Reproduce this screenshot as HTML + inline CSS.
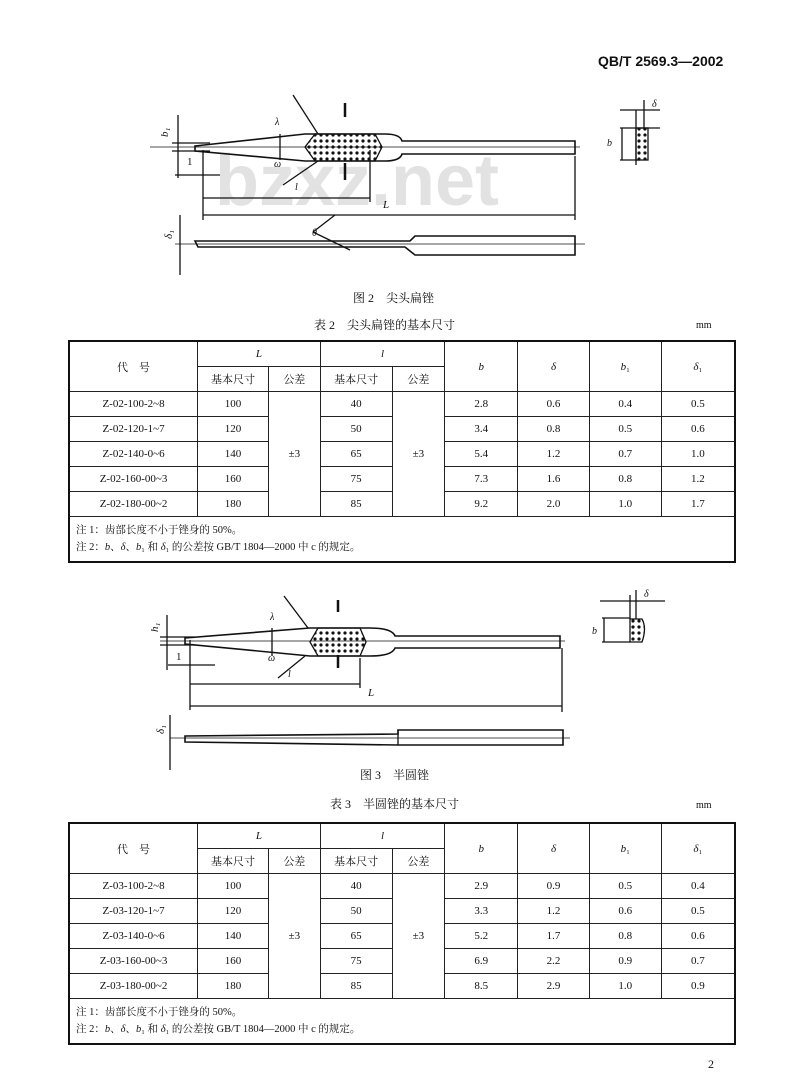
<!DOCTYPE html>
<html><head><meta charset="utf-8"><style>
body{margin:0;background:#fff;}
#p{position:relative;width:800px;height:1092px;overflow:hidden;font-family:"Liberation Serif","Noto Serif CJK SC","Noto Sans CJK SC",serif;color:#111;}
.t{position:absolute;white-space:nowrap;}
table{position:absolute;border-collapse:collapse;font-size:11px;text-align:center;}
td{border:1px solid #222;padding:0;height:24px;}
.tb{border:2px solid #111;}
.note{text-align:left;padding-left:6px;line-height:17px;font-size:10.5px;}
</style></head><body><div id="p">
<div class="t" style="left:598px;top:53px;font-size:14px;font-weight:bold;font-family:'Liberation Sans',sans-serif;">QB/T 2569.3—2002</div>

<svg width="800" height="1092" style="position:absolute;left:0;top:0" stroke="#111" fill="none" stroke-width="1.3">
<defs><pattern id="h" width="6" height="6" patternUnits="userSpaceOnUse"><circle cx="3" cy="3" r="1.6" fill="#111" stroke="none"/></pattern></defs>
<text x="215" y="205" font-size="72" font-weight="bold" fill="#e2e2e2" stroke="none" font-family="Liberation Sans,sans-serif">bzxz.net</text>
<path d="M195,146 L305,134 L385,134 Q400,134 402,141 L575,141 L575,154 L402,154 Q400,161 385,161 L305,161 L195,151 Z" stroke-width="1.6"/>
<path d="M315,134 L375,134 L382,147 L375,161 L315,161 L305,147 Z" fill="url(#h)"/>
<line x1="150" y1="147" x2="580" y2="147" stroke-width="0.7"/>
<line x1="280" y1="134" x2="280" y2="160"/>
<line x1="178" y1="115" x2="178" y2="178"/><line x1="172" y1="143" x2="210" y2="143"/><line x1="172" y1="151" x2="210" y2="151"/>
<line x1="175" y1="175" x2="220" y2="175"/><line x1="203" y1="150" x2="203" y2="220"/>
<line x1="370" y1="150" x2="370" y2="202"/><line x1="575" y1="156" x2="575" y2="220"/>
<line x1="203" y1="198" x2="370" y2="198"/><line x1="203" y1="215" x2="575" y2="215"/>
<line x1="293" y1="95" x2="318" y2="134"/><line x1="318" y1="161" x2="283" y2="185"/>
<line x1="345" y1="103" x2="345" y2="117" stroke-width="2.5"/><line x1="345" y1="163" x2="345" y2="180" stroke-width="2.5"/>
<text x="160" y="135" font-size="11" fill="#111" stroke="none" font-style="italic" transform="rotate(-90 165 132)">b₁</text>
<text x="187" y="165" font-size="11" fill="#111" stroke="none">1</text>
<text x="275" y="125" font-size="10" fill="#111" stroke="none" font-style="italic">λ</text>
<text x="274" y="167" font-size="10" fill="#111" stroke="none" font-style="italic">ω</text>
<text x="295" y="190" font-size="10" fill="#111" stroke="none" font-style="italic">l</text>
<text x="383" y="208" font-size="11" fill="#111" stroke="none" font-style="italic">L</text>
<path d="M195,241 L410,241 L415,236 L575,236 L575,255 L415,255 L405,247 L198,247 Z" stroke-width="1.6"/>
<line x1="175" y1="244" x2="585" y2="244" stroke-width="0.7"/>
<line x1="180" y1="215" x2="180" y2="275"/>
<line x1="313" y1="232" x2="335" y2="215"/><line x1="313" y1="232" x2="350" y2="250"/>
<text x="312" y="236" font-size="10" fill="#111" stroke="none" font-style="italic">θ</text>
<text x="165" y="240" font-size="11" fill="#111" stroke="none" font-style="italic" transform="rotate(-90 168 236)">δ₁</text>
<rect x="636" y="128" width="12" height="32" fill="url(#h)"/>
<line x1="636" y1="110" x2="636" y2="165"/><line x1="644" y1="100" x2="644" y2="130"/>
<line x1="620" y1="128" x2="660" y2="128"/><line x1="620" y1="160" x2="640" y2="160"/><line x1="620" y1="110" x2="660" y2="110"/>
<line x1="622" y1="128" x2="622" y2="160"/>
<text x="652" y="107" font-size="10" fill="#111" stroke="none" font-style="italic">δ</text>
<text x="607" y="146" font-size="10" fill="#111" stroke="none" font-style="italic">b</text>

<path d="M185,638 L310,628 L370,628 Q392,628 395,636 L560,636 L560,648 L395,648 Q392,656 370,656 L310,656 L185,644 Z" stroke-width="1.6"/>
<path d="M318,628 L360,628 L366,642 L360,656 L318,656 L310,642 Z" fill="url(#h)"/>
<line x1="160" y1="641" x2="565" y2="641" stroke-width="0.7"/>
<line x1="272" y1="628" x2="272" y2="656"/>
<line x1="167" y1="615" x2="167" y2="670"/><line x1="160" y1="637" x2="195" y2="637"/><line x1="160" y1="645" x2="195" y2="645"/>
<line x1="168" y1="665" x2="215" y2="665"/><line x1="190" y1="640" x2="190" y2="710"/>
<line x1="360" y1="658" x2="360" y2="688"/><line x1="562" y1="648" x2="562" y2="712"/>
<line x1="190" y1="684" x2="360" y2="684"/><line x1="190" y1="706" x2="562" y2="706"/>
<line x1="284" y1="596" x2="308" y2="628"/><line x1="305" y1="656" x2="278" y2="678"/>
<line x1="338" y1="600" x2="338" y2="612" stroke-width="2.5"/><line x1="338" y1="655" x2="338" y2="668" stroke-width="2.5"/>
<text x="150" y="630" font-size="11" fill="#111" stroke="none" font-style="italic" transform="rotate(-90 155 627)">h₁</text>
<text x="176" y="660" font-size="11" fill="#111" stroke="none">1</text>
<text x="270" y="620" font-size="10" fill="#111" stroke="none" font-style="italic">λ</text>
<text x="268" y="661" font-size="10" fill="#111" stroke="none" font-style="italic">ω</text>
<text x="288" y="677" font-size="10" fill="#111" stroke="none" font-style="italic">l</text>
<text x="368" y="696" font-size="11" fill="#111" stroke="none" font-style="italic">L</text>
<path d="M185,736 L398,734 L398,730 L563,730 L563,745 L398,745 L185,742 Z" stroke-width="1.6"/>
<line x1="398" y1="730" x2="398" y2="745"/>
<line x1="170" y1="738" x2="570" y2="738" stroke-width="0.7"/>
<line x1="170" y1="715" x2="170" y2="770"/>
<text x="157" y="735" font-size="11" fill="#111" stroke="none" font-style="italic" transform="rotate(-90 160 731)">δ₁</text>
<path d="M630,619 L642,619 Q647,628 642,642 L630,642 Z" fill="url(#h)"/>
<line x1="600" y1="601" x2="665" y2="601"/><line x1="630" y1="595" x2="630" y2="619"/><line x1="636" y1="590" x2="636" y2="619"/>
<line x1="602" y1="618" x2="630" y2="618"/><line x1="602" y1="642" x2="630" y2="642"/><line x1="604" y1="618" x2="604" y2="642"/>
<text x="644" y="597" font-size="10" fill="#111" stroke="none" font-style="italic">δ</text>
<text x="592" y="634" font-size="10" fill="#111" stroke="none" font-style="italic">b</text>
</svg>

<div class="t" style="left:353px;top:289px;font-size:12px;">图 2　尖头扁锉</div>
<div class="t" style="left:314px;top:316px;font-size:12px;">表 2　尖头扁锉的基本尺寸</div>
<div class="t" style="left:696px;top:320px;font-size:10px;">mm</div>

<table class="tb" style="left:68px;top:340px;width:668px;">
<colgroup><col style="width:129px"><col style="width:71px"><col style="width:52px"><col style="width:72px"><col style="width:53px"><col style="width:73px"><col style="width:72px"><col style="width:72px"><col style="width:74px"></colgroup>
<tr><td rowspan="2">代　号</td><td colspan="2" style="height:24px"><i>L</i></td><td colspan="2"><i>l</i></td><td rowspan="2"><i>b</i></td><td rowspan="2"><i>δ</i></td><td rowspan="2"><i>b</i>₁</td><td rowspan="2"><i>δ</i>₁</td></tr>
<tr><td>基本尺寸</td><td>公差</td><td>基本尺寸</td><td>公差</td></tr>
<tr><td>Z-02-100-2~8</td><td>100</td><td rowspan="5">±3</td><td>40</td><td rowspan="5">±3</td><td>2.8</td><td>0.6</td><td>0.4</td><td>0.5</td></tr>
<tr><td>Z-02-120-1~7</td><td>120</td><td>50</td><td>3.4</td><td>0.8</td><td>0.5</td><td>0.6</td></tr>
<tr><td>Z-02-140-0~6</td><td>140</td><td>65</td><td>5.4</td><td>1.2</td><td>0.7</td><td>1.0</td></tr>
<tr><td>Z-02-160-00~3</td><td>160</td><td>75</td><td>7.3</td><td>1.6</td><td>0.8</td><td>1.2</td></tr>
<tr><td>Z-02-180-00~2</td><td>180</td><td>85</td><td>9.2</td><td>2.0</td><td>1.0</td><td>1.7</td></tr>
<tr><td colspan="9" class="note" style="height:44px">注 1：齿部长度不小于锉身的 50%。<br>注 2：<i>b</i>、<i>δ</i>、<i>b</i>₁ 和 <i>δ</i>₁ 的公差按 GB/T 1804—2000 中 c 的规定。</td></tr>
</table>

<div class="t" style="left:360px;top:766px;font-size:12px;">图 3　半圆锉</div>
<div class="t" style="left:330px;top:795px;font-size:12px;">表 3　半圆锉的基本尺寸</div>
<div class="t" style="left:696px;top:800px;font-size:10px;">mm</div>

<table class="tb" style="left:68px;top:822px;width:668px;">
<colgroup><col style="width:129px"><col style="width:71px"><col style="width:52px"><col style="width:72px"><col style="width:53px"><col style="width:73px"><col style="width:72px"><col style="width:72px"><col style="width:74px"></colgroup>
<tr><td rowspan="2">代　号</td><td colspan="2"><i>L</i></td><td colspan="2"><i>l</i></td><td rowspan="2"><i>b</i></td><td rowspan="2"><i>δ</i></td><td rowspan="2"><i>b</i>₁</td><td rowspan="2"><i>δ</i>₁</td></tr>
<tr><td>基本尺寸</td><td>公差</td><td>基本尺寸</td><td>公差</td></tr>
<tr><td>Z-03-100-2~8</td><td>100</td><td rowspan="5">±3</td><td>40</td><td rowspan="5">±3</td><td>2.9</td><td>0.9</td><td>0.5</td><td>0.4</td></tr>
<tr><td>Z-03-120-1~7</td><td>120</td><td>50</td><td>3.3</td><td>1.2</td><td>0.6</td><td>0.5</td></tr>
<tr><td>Z-03-140-0~6</td><td>140</td><td>65</td><td>5.2</td><td>1.7</td><td>0.8</td><td>0.6</td></tr>
<tr><td>Z-03-160-00~3</td><td>160</td><td>75</td><td>6.9</td><td>2.2</td><td>0.9</td><td>0.7</td></tr>
<tr><td>Z-03-180-00~2</td><td>180</td><td>85</td><td>8.5</td><td>2.9</td><td>1.0</td><td>0.9</td></tr>
<tr><td colspan="9" class="note" style="height:44px">注 1：齿部长度不小于锉身的 50%。<br>注 2：<i>b</i>、<i>δ</i>、<i>b</i>₁ 和 <i>δ</i>₁ 的公差按 GB/T 1804—2000 中 c 的规定。</td></tr>
</table>

<div class="t" style="left:708px;top:1057px;font-size:12px;">2</div>
</div></body></html>
